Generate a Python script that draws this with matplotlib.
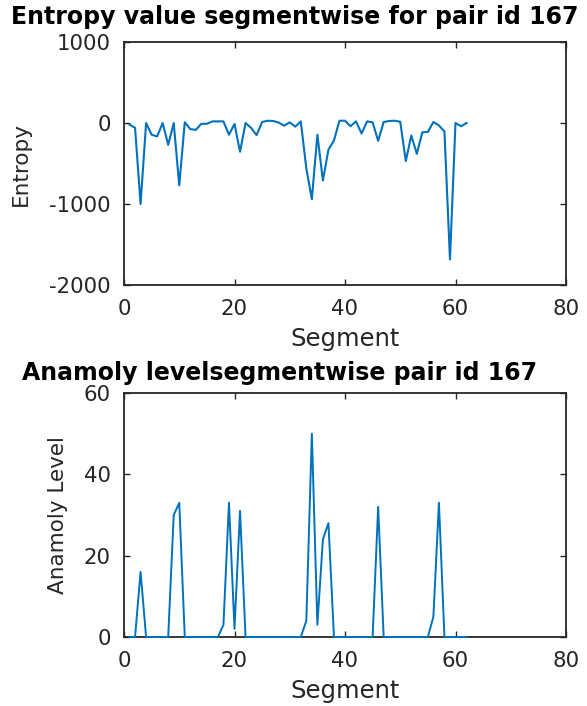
import matplotlib
matplotlib.use("Agg")
import matplotlib.pyplot as plt

segments = list(range(1, 63))
entropy = [-20, -60, -1000, 0, -145, -165, 0, -270, 0, -770,
           10, -75, -85, -10, -10, 20, 20, 20, -145, -12,
           -355, 0, -60, -150, 12, 28, 25, 5, -33, 8,
           -45, 20, -560, -940, -145, -710, -330, -215, 28, 28,
           -40, 20, -130, 20, 8, -220, 12, 25, 28, 15,
           -470, -155, -380, -115, -110, 12, -30, -105, -1685, 0,
           -40, 0]
anomaly = [0, 0, 16, 0, 0, 0, 0, 0, 30, 33,
           0, 0, 0, 0, 0, 0, 0, 3, 33, 2,
           31, 0, 0, 0, 0, 0, 0, 0, 0, 0,
           0, 0, 4, 50, 3, 24, 28, 0, 0, 0,
           0, 0, 0, 0, 0, 32, 0, 0, 0, 0,
           0, 0, 0, 0, 0, 5, 33, 0, 0, 0,
           0, 0]

x_ticks = [0, 20, 40, 60, 80]
y1_ticks = [-2000, -1000, 0, 1000]
y2_ticks = [0, 20, 40, 60]

plt.rcParams['font.family'] = ['DejaVu Sans']
plt.rcParams['axes.unicode_minus'] = False
line_color = '#0072BD'
spine_color = '#262626'

W, H = 587, 706
fig = plt.figure(figsize=(W / 100, H / 100), dpi=100)
ax1 = fig.add_axes([124 / W, 1 - 285 / H, 442 / W, 243 / H])
ax2 = fig.add_axes([124 / W, 1 - 637 / H, 442 / W, 244 / H])

def style(ax):
    for s in ax.spines.values():
        s.set_color(spine_color)
        s.set_linewidth(1.3)
    ax.tick_params(direction='in', top=True, right=True, length=4,
                   width=1.0, color=spine_color, labelcolor=spine_color,
                   labelsize=15.3)
    ax.tick_params(axis='x', pad=10)
    ax.tick_params(axis='y', pad=9.5)

ax1.plot(segments, entropy, color=line_color, lw=1.5, zorder=3, clip_on=False)
ax1.set_xlim(0, 80)
ax1.set_ylim(-2000, 1000)
ax1.set_xticks(x_ticks)
ax1.set_yticks(y1_ticks)
style(ax1)
ax1.set_xlabel('Segment', fontsize=17.5, color=spine_color, labelpad=6)
ax1.set_ylabel('Entropy', fontsize=15.5, color=spine_color, labelpad=13.5)

ax2.plot(segments, anomaly, color=line_color, lw=1.4, zorder=3, clip_on=False)
ax2.set_xlim(0, 80)
ax2.set_ylim(0, 60)
ax2.set_xticks(x_ticks)
ax2.set_yticks(y2_ticks)
style(ax2)
ax2.set_xlabel('Segment', fontsize=17.5, color=spine_color, labelpad=6)
ax2.set_ylabel('Anamoly Level', fontsize=15.5, color=spine_color, labelpad=11)

fig.text(295 / W, 1 - 24 / H, 'Entropy value segmentwise for pair id 167',
         fontsize=17, fontweight='bold', ha='center', va='baseline')
fig.text(280 / W, 1 - 380 / H, 'Anamoly levelsegmentwise pair id 167',
         fontsize=17, fontweight='bold', ha='center', va='baseline')

fig.savefig('out.png', dpi=100)
